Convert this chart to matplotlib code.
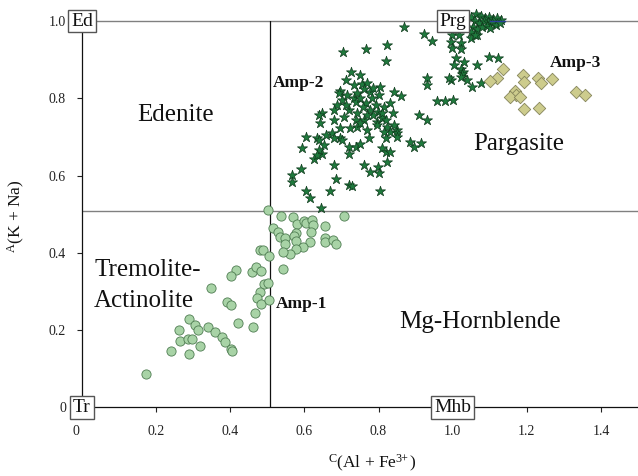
import matplotlib
matplotlib.use("Agg")
import matplotlib.pyplot as plt
from matplotlib.transforms import ScaledTranslation

plt.rcParams['font.family'] = ['Liberation Serif', 'DejaVu Serif']
plt.rcParams['mathtext.fontset'] = 'custom'
plt.rcParams['mathtext.rm'] = 'Liberation Serif'
plt.rcParams['mathtext.it'] = 'Liberation Serif:italic'

# ---------------- data ----------------
amp1_x = [0.503, 0.538, 0.568, 0.581, 0.600, 0.605, 0.620, 0.623, 0.618, 0.616,
          0.655, 0.708, 0.515, 0.528, 0.533, 0.548, 0.547, 0.578, 0.573, 0.578,
          0.596, 0.576, 0.562, 0.541, 0.655, 0.655, 0.676, 0.686, 0.481, 0.489,
          0.504, 0.541, 0.415, 0.403, 0.459, 0.469, 0.483, 0.490, 0.501, 0.479,
          0.472, 0.484, 0.504, 0.349, 0.391, 0.402, 0.466, 0.422, 0.460, 0.290,
          0.305, 0.312, 0.262, 0.341, 0.358, 0.378, 0.385, 0.403, 0.406, 0.265,
          0.287, 0.298, 0.319, 0.241, 0.290, 0.172]
amp1_y = [0.510, 0.496, 0.492, 0.474, 0.482, 0.477, 0.486, 0.472, 0.455, 0.427,
          0.470, 0.495, 0.465, 0.454, 0.442, 0.437, 0.422, 0.451, 0.444, 0.430,
          0.416, 0.409, 0.397, 0.402, 0.439, 0.427, 0.434, 0.424, 0.407, 0.407,
          0.392, 0.358, 0.356, 0.339, 0.351, 0.363, 0.352, 0.320, 0.322, 0.299,
          0.282, 0.267, 0.277, 0.310, 0.273, 0.264, 0.243, 0.217, 0.208, 0.228,
          0.212, 0.199, 0.201, 0.208, 0.195, 0.182, 0.168, 0.150, 0.147, 0.171,
          0.178, 0.176, 0.158, 0.146, 0.139, 0.087]

amp2_x = [0.870, 0.922, 0.943, 0.999, 1.017, 0.995, 1.022, 0.999, 1.022, 1.049,
          1.065, 0.824, 0.765, 0.705, 0.819, 1.098, 1.121, 1.065, 1.008, 1.031,
          1.004, 1.022, 1.029, 1.026, 1.022, 1.040, 1.053, 1.076, 0.995, 0.990,
          0.930, 0.932, 0.959, 0.978, 1.002, 0.909, 0.932, 0.886, 0.895, 0.915,
          1.049, 1.062, 1.076, 1.086, 1.097, 1.108, 1.119, 1.130, 1.059, 1.070,
          1.084, 1.095, 1.105, 1.116, 1.127, 1.054, 1.065, 1.078, 1.092, 1.049,
          1.059, 1.100,
          0.727, 0.749, 0.733, 0.756, 0.769, 0.762, 0.776, 0.805, 0.801, 0.697,
          0.693, 0.702, 0.688, 0.679, 0.733, 0.738, 0.742, 0.751, 0.765, 0.783,
          0.792, 0.778, 0.798, 0.786, 0.814, 0.832, 0.841, 0.861, 0.720, 0.706,
          0.648, 0.643, 0.679, 0.697, 0.738, 0.760, 0.742, 0.769, 0.796, 0.810,
          0.824, 0.832, 0.841, 0.851, 0.603, 0.634, 0.657, 0.675, 0.697, 0.724,
          0.594, 0.639, 0.679, 0.702, 0.652, 0.648, 0.627, 0.639, 0.751, 0.774,
          0.796, 0.720, 0.738, 0.751, 0.720, 0.810, 0.819, 0.832, 0.824, 0.762,
          0.778, 0.798, 0.801, 0.679, 0.592, 0.567, 0.567, 0.686, 0.720, 0.729,
          0.804, 0.668, 0.603, 0.614, 0.645, 0.851, 0.819, 0.810, 0.814, 0.819,
          0.851, 0.639, 0.634, 0.711, 0.784, 0.716, 0.757, 0.770, 0.711, 0.743,
          0.838]
amp2_y = [0.984, 0.966, 0.948, 0.964, 0.964, 0.946, 0.942, 0.929, 0.927, 0.955,
          0.964, 0.938, 0.927, 0.920, 0.896, 0.908, 0.905, 0.886, 0.903, 0.895,
          0.886, 0.877, 0.869, 0.863, 0.856, 0.847, 0.830, 0.839, 0.847, 0.852,
          0.852, 0.834, 0.794, 0.794, 0.795, 0.756, 0.744, 0.687, 0.674, 0.684,
          1.010, 1.018, 1.013, 1.008, 1.010, 1.005, 1.008, 1.003, 1.000, 0.995,
          1.000, 0.997, 0.995, 0.990, 0.995, 0.984, 0.979, 0.984, 0.987, 0.972,
          0.964, 0.982,
          0.867, 0.860, 0.834, 0.836, 0.839, 0.823, 0.817, 0.830, 0.808, 0.819,
          0.813, 0.795, 0.782, 0.769, 0.800, 0.791, 0.813, 0.800, 0.787, 0.800,
          0.782, 0.769, 0.765, 0.756, 0.778, 0.787, 0.817, 0.806, 0.769, 0.752,
          0.761, 0.735, 0.744, 0.722, 0.744, 0.744, 0.725, 0.718, 0.739, 0.748,
          0.726, 0.713, 0.731, 0.718, 0.700, 0.696, 0.705, 0.709, 0.696, 0.722,
          0.670, 0.692, 0.696, 0.692, 0.679, 0.657, 0.642, 0.666, 0.735, 0.696,
          0.731, 0.674, 0.674, 0.681, 0.655, 0.670, 0.661, 0.660, 0.635, 0.627,
          0.610, 0.623, 0.607, 0.627, 0.616, 0.601, 0.584, 0.590, 0.575, 0.573,
          0.560, 0.560, 0.560, 0.541, 0.515, 0.709, 0.744, 0.761, 0.713, 0.696,
          0.700, 0.756, 0.653, 0.847, 0.826, 0.808, 0.777, 0.756, 0.782, 0.761,
          0.762]

amp3_x = [1.136, 1.119, 1.101, 1.191, 1.192, 1.230, 1.238, 1.269, 1.167, 1.170,
          1.155, 1.182, 1.192, 1.234, 1.332, 1.358]
amp3_y = [0.877, 0.852, 0.844, 0.859, 0.843, 0.852, 0.839, 0.851, 0.820, 0.808,
          0.802, 0.802, 0.773, 0.776, 0.815, 0.808]

blue_x = [1.10, 1.14]
blue_y = [1.0, 1.0]

x_ticks = [0, 0.2, 0.4, 0.6, 0.8, 1.0, 1.2, 1.4]
x_tick_labels = ["0", "0.2", "0.4", "0.6", "0.8", "1.0", "1.2", "1.4"]
y_ticks = [0, 0.2, 0.4, 0.6, 0.8, 1.0]
y_tick_labels = ["0", "0.2", "0.4", "0.6", "0.8", "1.0"]

boundary = 0.508

# ---------------- figure ----------------
fig = plt.figure(figsize=(6.38, 4.76), dpi=100)
ax = fig.add_axes([82 / 638, (476 - 407.3) / 476, 556 / 638, 386.3 / 476])
ax.set_xlim(0, 1.5)
ax.set_ylim(0, 1.0)

for s in ['top', 'right']:
    ax.spines[s].set_visible(False)
for s in ['left', 'bottom']:
    ax.spines[s].set_color('#111111')
    ax.spines[s].set_linewidth(0.9)

ax.axhline(1.0, color='#808080', lw=1.0, zorder=1, clip_on=False)
ax.axhline(boundary, color='#808080', lw=1.0, zorder=1)
ax.plot([boundary, boundary], [0, 1.0], color='#111111', lw=0.9, zorder=1)

ax.set_xticks(x_ticks)
ax.set_xticklabels(x_tick_labels)
ax.set_yticks(y_ticks)
ax.set_yticklabels(y_tick_labels)
ax.tick_params(direction='out', length=3.6, width=0.8, labelsize=10,
               colors='#222222')
ax.tick_params(axis='x', pad=9.0)
ax.tick_params(axis='y', pad=8.0)

# nudge the x-axis "0" label slightly left, as in the original
lab0 = ax.xaxis.get_major_ticks()[0].label1
lab0.set_transform(lab0.get_transform() + ScaledTranslation(-0.06, 0, fig.dpi_scale_trans))

ax.scatter(amp1_x, amp1_y, s=44, marker='o', facecolor='#a8d3a6',
           edgecolor='#4f7d52', linewidths=0.6, zorder=3, clip_on=False)
ax.scatter(amp2_x, amp2_y, s=58, marker='*', facecolor='#1f7a3d',
           edgecolor='#0f3a1c', linewidths=0.5, zorder=4, clip_on=False)
ax.scatter(amp3_x, amp3_y, s=40, marker='D', facecolor='#cdcc8d',
           edgecolor='#85845a', linewidths=0.6, zorder=5, clip_on=False)
ax.plot(blue_x, blue_y, color='#2b3f9a', lw=1.0, zorder=6, clip_on=False)

# corner boxes
box = dict(boxstyle='square,pad=0.14', fc='white', ec='#555555', lw=1.0)
for (bx, by, t) in [(0, 1.0, 'Ed'), (1.0, 1.0, 'Prg'), (0, 0, 'Tr'), (1.0, 0, 'Mhb')]:
    ax.text(bx, by, t, ha='center', va='center', fontsize=14, color='#111111',
            bbox=box, zorder=10, clip_on=False)

# field names
ax.text(0.253, 0.742, 'Edenite', ha='center', va='baseline', fontsize=18, color='#111111')
ax.text(1.177, 0.666, 'Pargasite', ha='center', va='baseline', fontsize=18, color='#111111')
ax.text(0.033, 0.339, 'Tremolite-', ha='left', va='baseline', fontsize=18, color='#111111')
ax.text(0.033, 0.260, 'Actinolite', ha='left', va='baseline', fontsize=18, color='#111111')
ax.text(1.073, 0.204, 'Mg-Hornblende', ha='center', va='baseline', fontsize=18, color='#111111')

# group labels
ax.text(0.522, 0.256, 'Amp-1', ha='left', va='baseline', fontsize=12.5,
        fontweight='bold', color='#111111', zorder=11)
ax.text(0.516, 0.828, 'Amp-2', ha='left', va='baseline', fontsize=12.5,
        fontweight='bold', color='#111111', zorder=11)
ax.text(1.263, 0.880, 'Amp-3', ha='left', va='baseline', fontsize=12.5,
        fontweight='bold', color='#111111', zorder=11)

# axis titles
fig.text(372.5 / 638, 1 - 463 / 476, r'$^{\mathrm{C}}$(Al + Fe$^{3\!\!+}$)',
         ha='center', va='center', fontsize=12.5, color='#111111')
fig.text(16 / 638, 1 - 216 / 476, r'$^{\mathrm{A}}$(K + Na)', rotation=90,
         ha='center', va='center', fontsize=12.5, color='#111111')

fig.savefig('out.png', dpi=100)
